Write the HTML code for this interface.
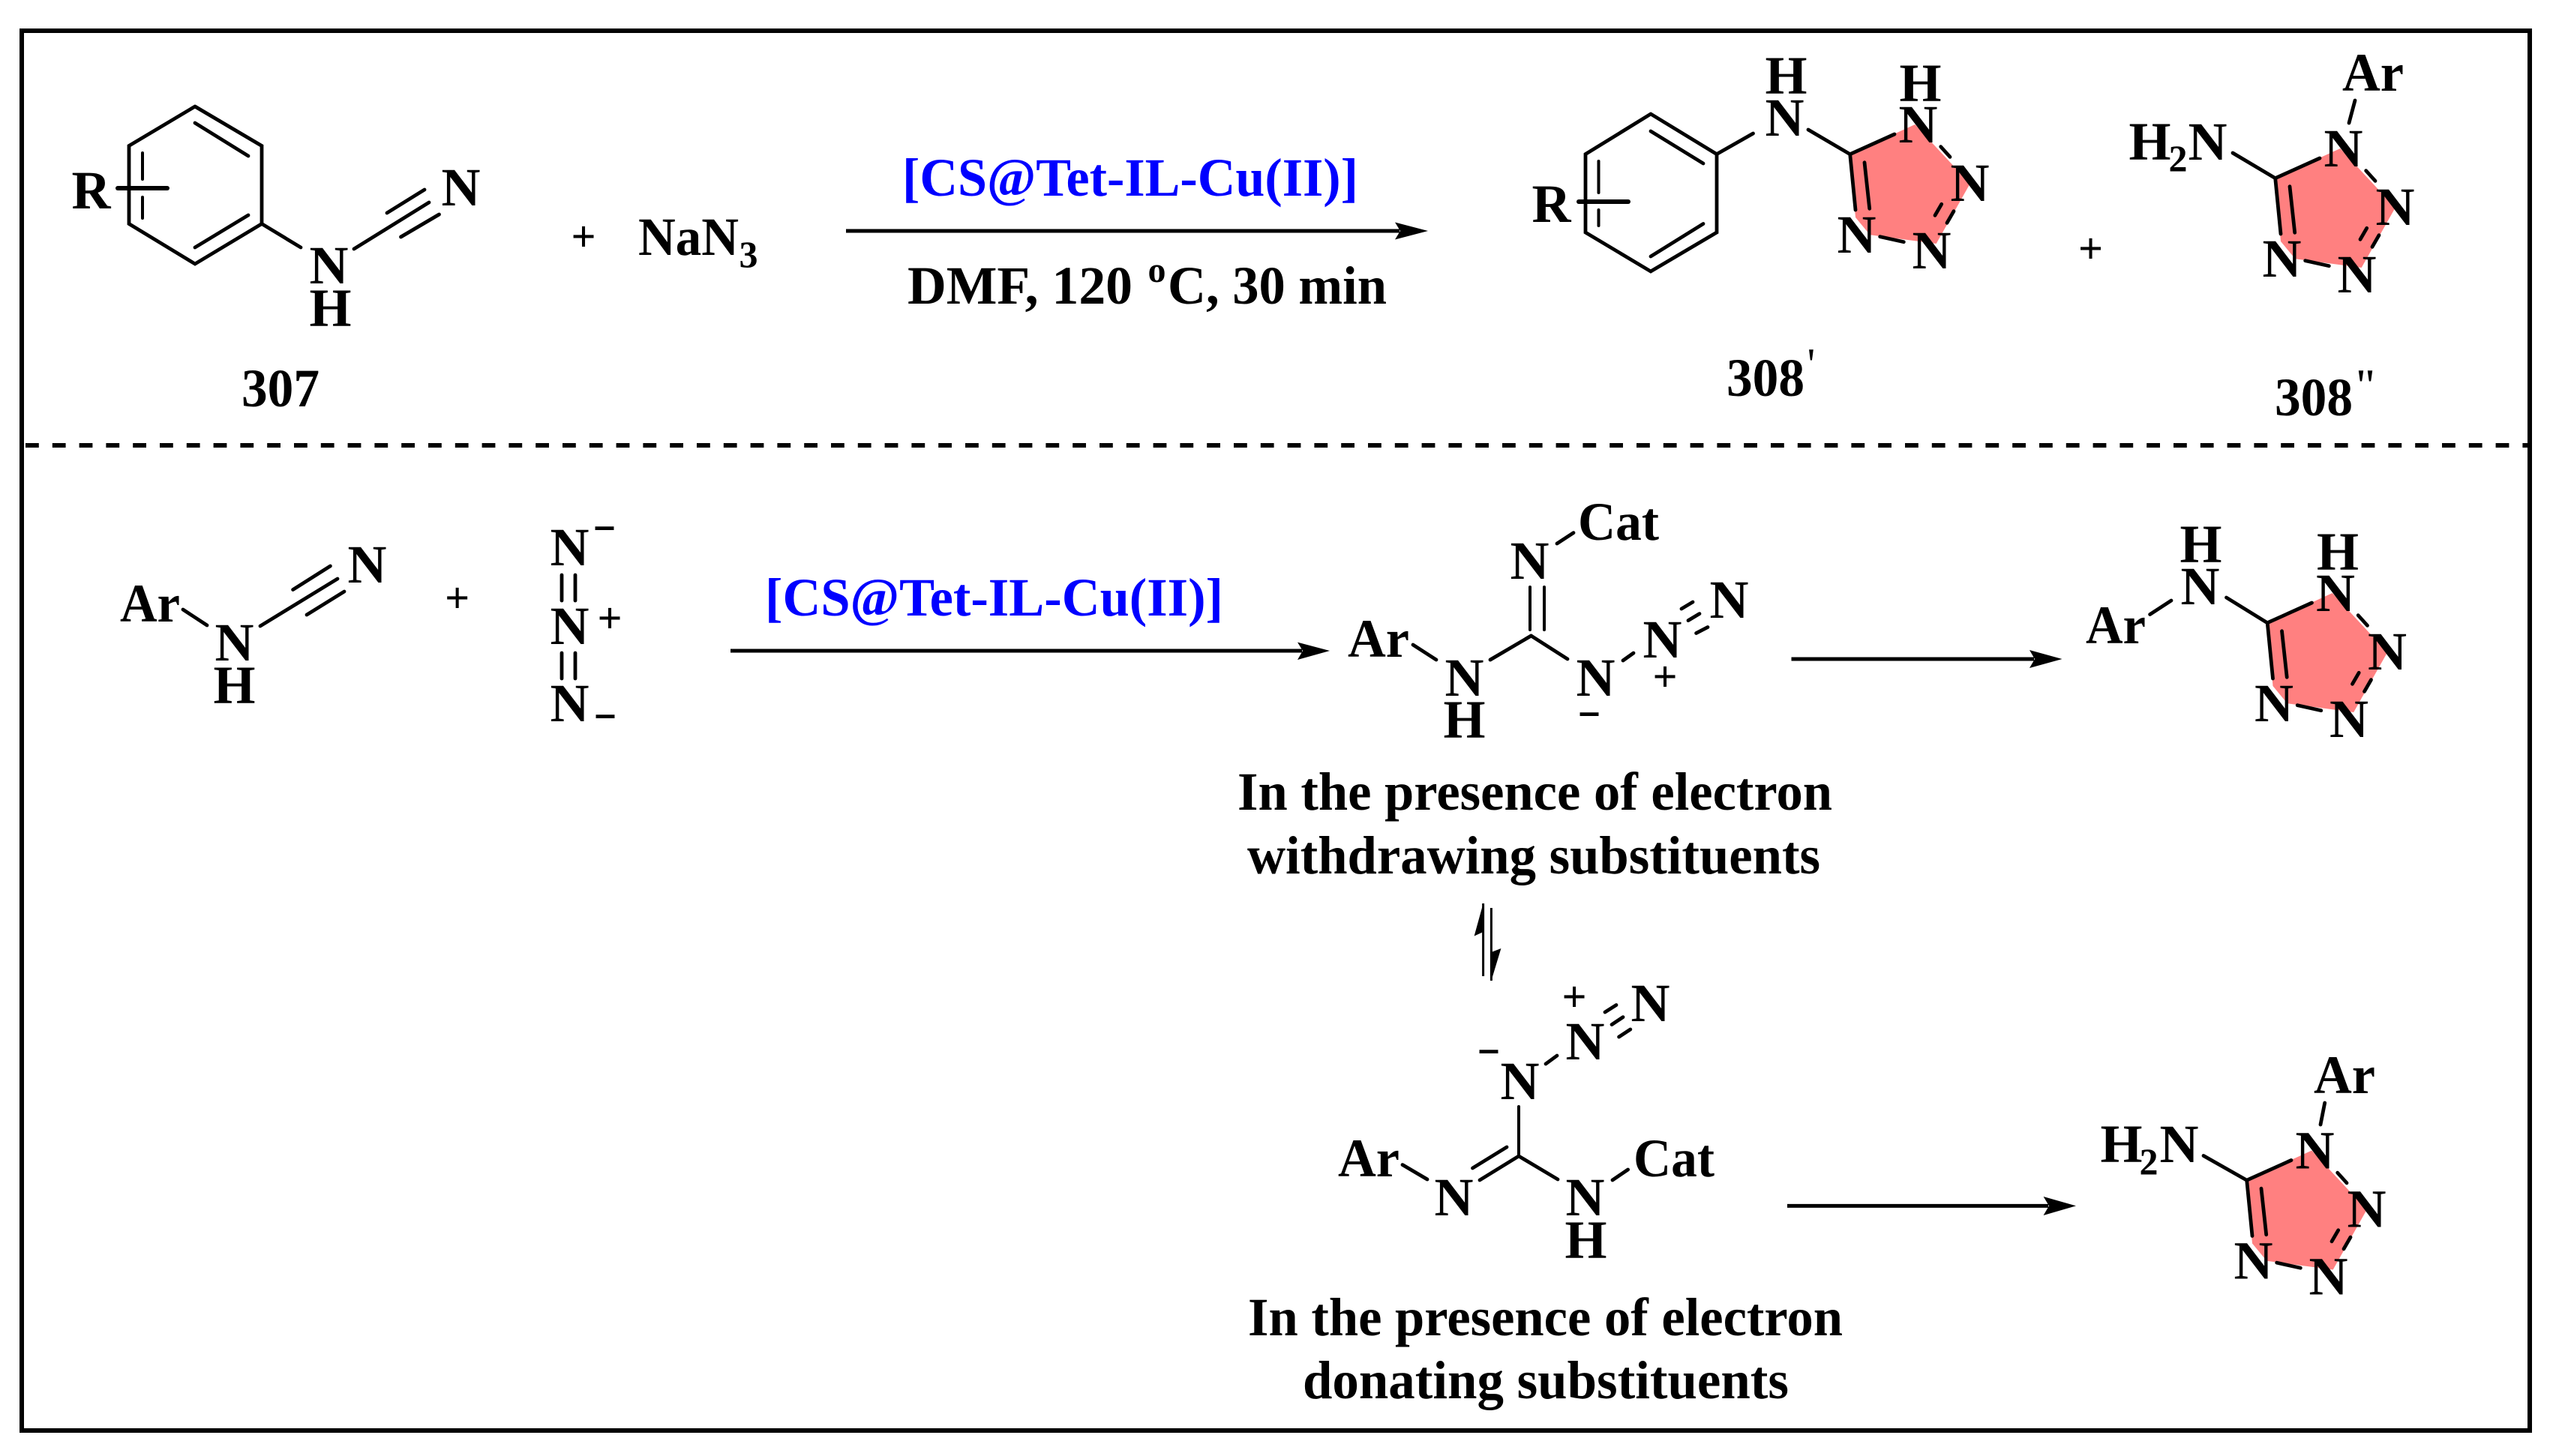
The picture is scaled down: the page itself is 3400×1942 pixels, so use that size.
<!DOCTYPE html>
<html><head><meta charset="utf-8"><title>Tetrazole synthesis scheme</title>
<style>
html,body{margin:0;padding:0;background:#fff;width:3400px;height:1942px;overflow:hidden}
svg{display:block}
text{font-family:"Liberation Serif",serif;font-weight:700;font-size:72px;fill:#000}
text:not([textLength]):not(.p){transform:translateX(-1.5px)}
.b{fill:#00f}
.p{font-weight:700;font-size:58px;text-anchor:middle}
.s{font-size:50px}
.m{font-size:56px}
.t{font-weight:400;font-size:60px}
line,polyline{stroke:#000;stroke-width:4.8;stroke-linecap:round;fill:none}
.a{stroke-width:5;stroke-linecap:butt}
.f{fill:#000;stroke:none}
.k{stroke-width:6}
</style></head><body>
<svg width="3400" height="1942" viewBox="0 0 3400 1942" xmlns="http://www.w3.org/2000/svg">
<rect x="0" y="0" width="3400" height="1942" fill="#fff"/>
<rect x="29" y="41" width="3344" height="1867" fill="none" stroke="#000" stroke-width="6"/>
<line x1="34" y1="594" x2="3373" y2="594" style="stroke-width:6;stroke-dasharray:17.8 18;stroke-linecap:butt"/>

<!-- 307 -->
<polyline points="260,142 349,194.5 349,298.5 260,352 172,298.5 172,194.5 260,142"/>
<line x1="260" y1="164" x2="331" y2="208"/><line x1="260" y1="330" x2="331" y2="287"/>
<line x1="190" y1="204" x2="190" y2="239" style="stroke-width:4"/><line x1="190" y1="263" x2="190" y2="291" style="stroke-width:4"/>
<line x1="157" y1="251" x2="223" y2="251" class="k"/>
<text x="97" y="278">R</text>
<line x1="349" y1="298.5" x2="401" y2="330"/>
<line x1="472" y1="332" x2="572" y2="270"/><line x1="516" y1="284" x2="566" y2="253"/><line x1="534.5" y1="316" x2="585.5" y2="286"/>
<text x="590" y="274">N</text><text x="414" y="378">N</text><text x="414" y="435">H</text>
<text x="322" y="542" textLength="104" lengthAdjust="spacingAndGlyphs">307</text>
<text class="p" x="778" y="335">+</text>
<text x="851" y="340" textLength="134" lengthAdjust="spacingAndGlyphs">NaN</text><text class="s" x="987" y="356">3</text>

<!-- top arrow -->
<line x1="1128" y1="308" x2="1866" y2="308" class="a"/>
<polygon class="f" points="1904,308 1860,296.5 1867,308 1860,319.5"/>
<text class="b" x="1203" y="261" textLength="608" lengthAdjust="spacingAndGlyphs">[CS@Tet-IL-Cu(II)]</text>
<text x="1210" y="405" textLength="300" lengthAdjust="spacingAndGlyphs">DMF, 120</text>
<text x="1532" y="376" style="font-size:48px">o</text>
<text x="1557" y="405" textLength="292" lengthAdjust="spacingAndGlyphs">C, 30 min</text>

<!-- 308' benzene -->
<polyline points="2201,152 2289,205.6 2289,310 2201,362 2114,310 2114,205.6 2201,152"/>
<line x1="2201" y1="175" x2="2271" y2="218"/><line x1="2201" y1="342" x2="2271" y2="298.5"/>
<line x1="2131.5" y1="215" x2="2131.5" y2="257" style="stroke-width:4"/><line x1="2131.5" y1="280" x2="2131.5" y2="301" style="stroke-width:4"/>
<line x1="2105" y1="269" x2="2171" y2="269" class="k"/>
<text x="2044" y="296">R</text>
<line x1="2289" y1="205.6" x2="2337.5" y2="178"/>
<text x="2355" y="181">N</text><text x="2355" y="125">H</text>
<line x1="2411" y1="173" x2="2466.7" y2="205.7"/>

<!-- tetrazole A -->
<polygon points="2466.7,205.7 2553.3,166 2626.7,245 2581.7,325 2493.3,313.3 2474,290" fill="#ff8080"/>
<line x1="2466.7" y1="205.7" x2="2526" y2="179"/>
<line x1="2466.7" y1="205.7" x2="2474" y2="280"/><line x1="2486" y1="216.7" x2="2492.7" y2="278.3"/>
<line x1="2587.7" y1="195.7" x2="2600" y2="209.3"/><line x1="2588.7" y1="272.3" x2="2580" y2="287.3"/><line x1="2605" y1="281.7" x2="2596" y2="297.3"/><line x1="2506.7" y1="315.7" x2="2538.3" y2="322.7"/>
<text x="2533" y="190">N</text><text x="2534" y="135">H</text><text x="2602" y="268">N</text><text x="2551" y="358">N</text><text x="2451" y="337">N</text>

<text x="2302" y="528" textLength="104" lengthAdjust="spacingAndGlyphs">308</text><text class="t" x="2411" y="506">'</text>
<text class="p" x="2787.5" y="351">+</text>

<!-- tetrazole B (308'') -->
<g transform="translate(567,32)">
<polygon points="2466.7,205.7 2553.3,166 2626.7,245 2581.7,325 2493.3,313.3 2474,290" fill="#ff8080"/>
<line x1="2466.7" y1="205.7" x2="2526" y2="179"/>
<line x1="2466.7" y1="205.7" x2="2474" y2="280"/><line x1="2486" y1="216.7" x2="2492.7" y2="278.3"/>
<line x1="2587.7" y1="195.7" x2="2600" y2="209.3"/><line x1="2588.7" y1="272.3" x2="2580" y2="287.3"/><line x1="2605" y1="281.7" x2="2596" y2="297.3"/><line x1="2506.7" y1="315.7" x2="2538.3" y2="322.7"/>
<text x="2533" y="190">N</text><text x="2602" y="268">N</text><text x="2551" y="358">N</text><text x="2451" y="337">N</text>
</g>
<line x1="3140" y1="134" x2="3132" y2="164"/>
<text x="3123" y="121" textLength="82" lengthAdjust="spacingAndGlyphs">Ar</text>
<text x="2840" y="213">H</text><text class="s" x="2893" y="228">2</text><text x="2919" y="213">N</text>
<line x1="2977" y1="204" x2="3033.7" y2="237.7"/>
<text x="3033" y="554" textLength="104" lengthAdjust="spacingAndGlyphs">308</text>
<text class="t" x="3142" y="534" textLength="24" lengthAdjust="spacingAndGlyphs">''</text>

<!-- lower left -->
<text x="160" y="829" textLength="80" lengthAdjust="spacingAndGlyphs">Ar</text>
<line x1="244" y1="813" x2="276" y2="834"/>
<text x="288" y="881">N</text><text x="286" y="938">H</text>
<line x1="347" y1="835" x2="450" y2="772"/><line x1="390.6" y1="786.5" x2="440.4" y2="755"/><line x1="409" y1="820" x2="459" y2="789"/>
<text x="465" y="777">N</text>
<text class="p" x="609.6" y="817">+</text>
<text x="735" y="754">N</text><text x="735" y="859">N</text><text x="735" y="962">N</text>
<line x1="749" y1="767" x2="749" y2="801"/><line x1="767" y1="767" x2="767" y2="801"/>
<line x1="749" y1="871" x2="749" y2="905"/><line x1="767" y1="871" x2="767" y2="905"/>
<text class="m" x="790" y="718" textLength="32" lengthAdjust="spacingAndGlyphs">-</text>
<text class="p" x="813" y="844">+</text>
<text class="m" x="791" y="969" textLength="32" lengthAdjust="spacingAndGlyphs">-</text>

<text class="b" x="1020" y="821" textLength="611" lengthAdjust="spacingAndGlyphs">[CS@Tet-IL-Cu(II)]</text>
<line x1="974" y1="868" x2="1736" y2="868" class="a"/>
<polygon class="f" points="1773,868 1730,856.6 1737,868 1730,880"/>

<!-- intermediate 1 -->
<text x="1797" y="876" textLength="82" lengthAdjust="spacingAndGlyphs">Ar</text>
<line x1="1884" y1="860" x2="1915" y2="880"/>
<text x="1928" y="928">N</text><text x="1926" y="984">H</text>
<line x1="1987" y1="880" x2="2041.5" y2="848"/><line x1="2041.5" y1="848" x2="2090" y2="879"/>
<text x="2103" y="928">N</text>
<text class="m" x="2103" y="966" textLength="32" lengthAdjust="spacingAndGlyphs">-</text>
<line x1="2164" y1="881" x2="2178" y2="871"/>
<text x="2192" y="877">N</text>
<text class="p" x="2220" y="922">+</text>
<line x1="2242" y1="812" x2="2257" y2="803"/><line x1="2251" y1="827.6" x2="2266" y2="818.6"/><line x1="2261.6" y1="844.5" x2="2277" y2="836.5"/>
<text x="2281" y="824">N</text>
<line x1="2040" y1="783" x2="2040" y2="840" style="stroke-width:4"/><line x1="2059" y1="783" x2="2059" y2="840" style="stroke-width:4"/>
<text x="2015" y="772">N</text>
<line x1="2076" y1="725" x2="2098" y2="710.6"/>
<text x="2104" y="720" textLength="108" lengthAdjust="spacingAndGlyphs">Cat</text>

<line x1="2388.5" y1="879" x2="2712" y2="879" class="a"/>
<polygon class="f" points="2749.5,879 2706,867 2713,879 2706,891"/>

<!-- right product C -->
<text x="2781" y="858" textLength="80" lengthAdjust="spacingAndGlyphs">Ar</text>
<line x1="2866.6" y1="819.5" x2="2895" y2="801"/>
<text x="2909" y="806">N</text><text x="2908" y="750">H</text>
<line x1="2968.5" y1="797" x2="3023" y2="830.7"/>
<g transform="translate(556.5,625)">
<polygon points="2466.7,205.7 2553.3,166 2626.7,245 2581.7,325 2493.3,313.3 2474,290" fill="#ff8080"/>
<line x1="2466.7" y1="205.7" x2="2526" y2="179"/>
<line x1="2466.7" y1="205.7" x2="2474" y2="280"/><line x1="2486" y1="216.7" x2="2492.7" y2="278.3"/>
<line x1="2587.7" y1="195.7" x2="2600" y2="209.3"/><line x1="2588.7" y1="272.3" x2="2580" y2="287.3"/><line x1="2605" y1="281.7" x2="2596" y2="297.3"/><line x1="2506.7" y1="315.7" x2="2538.3" y2="322.7"/>
<text x="2533" y="190">N</text><text x="2534" y="135">H</text><text x="2602" y="268">N</text><text x="2551" y="358">N</text><text x="2451" y="337">N</text>
</g>

<!-- text labels -->
<text x="1650" y="1080" textLength="793" lengthAdjust="spacingAndGlyphs">In the presence of electron</text>
<text x="1663" y="1165" textLength="764" lengthAdjust="spacingAndGlyphs">withdrawing substituents</text>

<!-- equilibrium -->
<line x1="1977.6" y1="1205" x2="1977.6" y2="1302" style="stroke-width:3;stroke-linecap:butt"/>
<polygon class="f" points="1977.6,1205 1965.6,1248.5 1977.6,1243"/>
<line x1="1988.4" y1="1211" x2="1988.4" y2="1308" style="stroke-width:3;stroke-linecap:butt"/>
<polygon class="f" points="1988.4,1308 2001.4,1265 1988.4,1270"/>

<!-- intermediate 2 -->
<text class="p" x="2099" y="1349">+</text>
<line x1="2140" y1="1350" x2="2155" y2="1340.5"/><line x1="2149" y1="1366.6" x2="2164" y2="1356.6"/><line x1="2158.6" y1="1383" x2="2173.8" y2="1373"/>
<text x="2176" y="1362">N</text><text x="2089" y="1413">N</text>
<line x1="2061" y1="1419" x2="2076" y2="1408"/>
<text class="m" x="1969" y="1416" textLength="32" lengthAdjust="spacingAndGlyphs">-</text>
<text x="2002" y="1466">N</text>
<line x1="2025" y1="1476" x2="2025" y2="1542" style="stroke-width:4"/>
<line x1="2025" y1="1542" x2="2077" y2="1573"/>
<line x1="2025" y1="1542" x2="1973" y2="1574"/><line x1="2009" y1="1530" x2="1963.5" y2="1558"/>
<text x="1784" y="1569" textLength="82" lengthAdjust="spacingAndGlyphs">Ar</text>
<line x1="1870" y1="1553.6" x2="1903" y2="1573"/>
<text x="1914" y="1621">N</text><text x="2089" y="1621">N</text><text x="2088" y="1678">H</text>
<line x1="2150" y1="1574" x2="2170.6" y2="1560"/>
<text x="2178" y="1569" textLength="108" lengthAdjust="spacingAndGlyphs">Cat</text>

<line x1="2383" y1="1608.4" x2="2731" y2="1608.4" class="a"/>
<polygon class="f" points="2768,1608.4 2724.6,1596 2732,1608.4 2724.6,1621"/>

<!-- right product D -->
<g transform="translate(529,1368.5)">
<polygon points="2466.7,205.7 2553.3,166 2626.7,245 2581.7,325 2493.3,313.3 2474,290" fill="#ff8080"/>
<line x1="2466.7" y1="205.7" x2="2526" y2="179"/>
<line x1="2466.7" y1="205.7" x2="2474" y2="280"/><line x1="2486" y1="216.7" x2="2492.7" y2="278.3"/>
<line x1="2587.7" y1="195.7" x2="2600" y2="209.3"/><line x1="2588.7" y1="272.3" x2="2580" y2="287.3"/><line x1="2605" y1="281.7" x2="2596" y2="297.3"/><line x1="2506.7" y1="315.7" x2="2538.3" y2="322.7"/>
<text x="2533" y="190">N</text><text x="2602" y="268">N</text><text x="2551" y="358">N</text><text x="2451" y="337">N</text>
</g>
<text x="3085" y="1458" textLength="82" lengthAdjust="spacingAndGlyphs">Ar</text>
<line x1="3099.7" y1="1471" x2="3094" y2="1500"/>
<text x="2802" y="1550">H</text><text class="s" x="2854" y="1566">2</text><text x="2881" y="1550">N</text>
<line x1="2938" y1="1541.5" x2="2995.7" y2="1574.2"/>

<text x="1664" y="1781" textLength="793" lengthAdjust="spacingAndGlyphs">In the presence of electron</text>
<text x="1737" y="1865" textLength="648" lengthAdjust="spacingAndGlyphs">donating substituents</text>
</svg>
</body></html>
